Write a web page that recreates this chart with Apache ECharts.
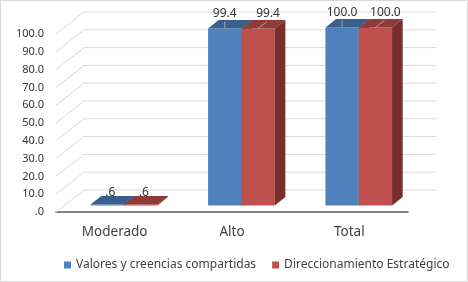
<!DOCTYPE html>
<html>
<head>
<meta charset="utf-8">
<script src="https://cdn.jsdelivr.net/npm/echarts@6/dist/echarts.min.js"></script>
<style>
  html, body { margin: 0; padding: 0; background: #fff; }
  #chart { width: 468px; height: 282px; }
</style>
</head>
<body>
<div id="chart"></div>
<script>
const categories = ['Moderado', 'Alto', 'Total']
const seriesNames = ['Valores y creencias compartidas', 'Direccionamiento Estratégico']
const valores = [0.6, 99.4, 100.0]
const direccionamiento = [0.6, 99.4, 100.0]
const yTicks = [0, 10, 20, 30, 40, 50, 60, 70, 80, 90, 100]

// depth of the 3d box (back wall offset) and where the bars sit inside it
const DEPTH = { dx: 28, dy: -22 }
const BAR_FRONT = 0.3
const BAR_DEPTH = 0.38
const BAR_WIDTH = 0.284
const FONT = 'Noto Sans'

const colors = [
  { front: '#4f81bd', top: '#3a5f8c', side: '#2f4d72' },
  { front: '#c0504d', top: '#8f3b39', side: '#772e2c' }
]

const fmt = v => {
  const s = v.toFixed(1)
  return s.startsWith('0') ? s.slice(1) : s
}

const chart = echarts.init(document.getElementById('chart'))

function renderWall(params, api) {
  const cs = params.coordSys
  const y = api.coord([0, api.value(1)])[1]
  const x0 = cs.x
  const x1 = cs.x + cs.width
  const style = { stroke: '#d9d9d9', lineWidth: 1 }
  return {
    type: 'group',
    children: [
      { type: 'line', shape: { x1: x0, y1: y, x2: x0 + DEPTH.dx, y2: y + DEPTH.dy }, style },
      { type: 'line', shape: { x1: x0 + DEPTH.dx, y1: y + DEPTH.dy, x2: x1 + DEPTH.dx, y2: y + DEPTH.dy }, style }
    ]
  }
}

function makeBarRenderer(s) {
  return function (params, api) {
    const idx = api.value(0)
    const val = api.value(1)
    const band = api.size([1, 0])[0]
    const bw = band * BAR_WIDTH
    const top = api.coord([idx, val])
    const base = api.coord([idx, 0])
    const fx = DEPTH.dx * BAR_FRONT + 1
    const fy = DEPTH.dy * BAR_FRONT
    const ddx = DEPTH.dx * BAR_DEPTH
    const ddy = DEPTH.dy * BAR_DEPTH
    const left = base[0] + fx + (s === 0 ? -bw : 0)
    const right = left + bw
    const yTop = top[1] + fy
    const yBot = base[1] + fy
    const c = colors[s]
    const cx = left + bw / 2
    const tall = val > 50
    const lx = cx + (tall ? (s === 1 ? 10 : 0) : 3)
    const children = [
      { type: 'rect', shape: { x: left, y: yTop, width: bw, height: Math.max(yBot - yTop, 1) }, style: { fill: c.front } },
      { type: 'polygon', shape: { points: [[left, yTop], [right, yTop], [right + ddx, yTop + ddy], [left + ddx, yTop + ddy]] }, style: { fill: c.top } },
      { type: 'polygon', shape: { points: [[right, yTop], [right + ddx, yTop + ddy], [right + ddx, yBot + ddy], [right, yBot]] }, style: { fill: c.side } },
      {
        type: 'text',
        x: lx, y: yTop - (tall ? 15 : 12),
        style: {
          text: fmt(val), fill: '#333333', font: `12px "${FONT}"`,
          align: 'center', verticalAlign: 'middle'
        }
      }
    ]
    if (tall) {
      const ex = s === 1 ? cx + 9 : cx
      children.push({
        type: 'line',
        shape: { x1: cx, y1: yTop, x2: ex, y2: yTop - 7 },
        style: { stroke: '#a6a6a6', lineWidth: 1 }
      })
    }
    return { type: 'group', children }
  }
}

const option = {
  animation: false,
  textStyle: { fontFamily: FONT },
  graphic: [{
    type: 'rect',
    shape: { x: 0.5, y: 0.5, width: 467, height: 281 },
    style: { fill: 'none', stroke: '#d9d9d9', lineWidth: 1 },
    silent: true
  }],
  grid: { left: 56, right: 60, top: 34, bottom: 70, containLabel: false },
  legend: {
    data: seriesNames.map((n, i) => ({ name: n, itemStyle: { color: colors[i].front } })),
    left: 59,
    top: 254,
    icon: 'rect',
    itemWidth: 7,
    itemHeight: 7,
    itemGap: 16,
    textStyle: { fontSize: 12, color: '#404040', fontFamily: FONT }
  },
  xAxis: {
    type: 'category',
    data: categories,
    axisLine: { lineStyle: { color: '#595959', width: 1.5 } },
    axisTick: { show: false },
    axisLabel: { margin: 13, fontSize: 13.5, color: '#404040', fontFamily: FONT },
    splitLine: { show: false }
  },
  yAxis: {
    type: 'value',
    min: 0,
    max: 100,
    interval: 10,
    axisLine: { show: false },
    axisTick: { show: false },
    splitLine: { show: false },
    axisLabel: { margin: 12, fontSize: 11, color: '#333333', fontFamily: FONT, formatter: v => fmt(v) }
  },
  series: [
    {
      type: 'custom',
      name: 'wall',
      renderItem: renderWall,
      data: yTicks.map(v => [0, v]),
      z: 1,
      silent: true
    },
    {
      type: 'custom',
      name: seriesNames[0],
      renderItem: makeBarRenderer(0),
      itemStyle: { color: colors[0].front },
      data: valores.map((v, i) => [i, v]),
      z: 2
    },
    {
      type: 'custom',
      name: seriesNames[1],
      renderItem: makeBarRenderer(1),
      itemStyle: { color: colors[1].front },
      data: direccionamiento.map((v, i) => [i, v]),
      z: 3
    }
  ]
}

chart.setOption(option)
</script>
</body>
</html>
